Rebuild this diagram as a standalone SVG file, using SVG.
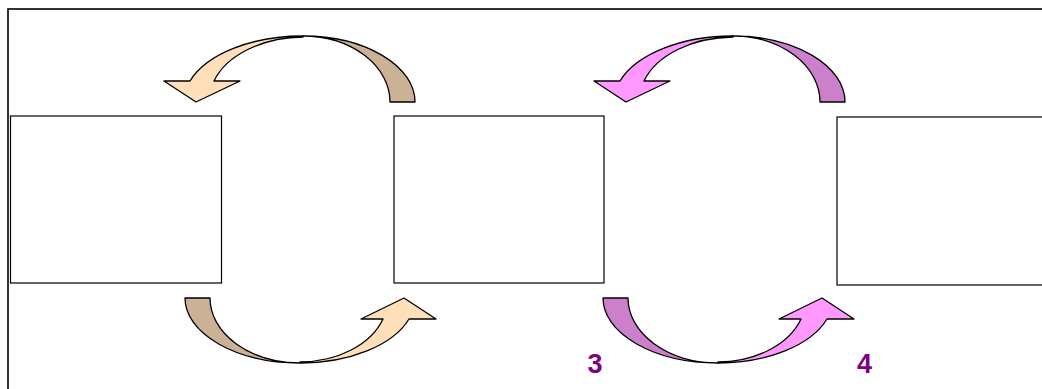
<svg xmlns="http://www.w3.org/2000/svg" width="1042" height="389" viewBox="0 0 1042 389">
<style>
.frame{fill:#fff;stroke:#000;stroke-width:1.6}
.box{fill:#fff;stroke:#000;stroke-width:1.2}
.arw{stroke:#000;stroke-width:1.3;stroke-linejoin:round}
.peach{fill:#FFDEBA}
.tan{fill:#CCB294}
.pink{fill:#FF99FF}
.mauve{fill:#CC80CC}
.lbl{font-family:"Liberation Sans",Arial,sans-serif;font-weight:bold;font-size:27px;fill:#800080;text-anchor:middle}
</style>
<rect width="1042" height="389" fill="#fff"/>
<rect class="frame" x="8" y="9" width="1100" height="500"/>
<g id="node1"><rect class="box" x="10.5" y="116" width="211" height="167"/></g>
<g id="node2"><rect class="box" x="394" y="116" width="210" height="167"/></g>
<g id="node3"><rect class="box" x="837" y="117" width="220" height="168"/></g>
<g id="connectors">
  <g id="arrow-top-1">
    <path class="arw tan" d="M303,36 A112,66 0 0,1 415,102 L390,102 A87,66 0 0,0 303,36 Z"/>
    <path class="arw peach" d="M303,36 A119,66 0 0,0 190,81 L164,81 L196,102 L240,81 L214,81 A95,63 0 0,1 303,37 Z"/>
  </g>
  <g id="arrow-bottom-1">
    <path class="arw tan" d="M185,298 L210,298 A90,65 0 0,0 300,363 A115,65 0 0,1 185,298 Z"/>
    <path class="arw peach" d="M300,363 A115,65 0 0,0 409,319 L436,319 L404,298 L361,319 L383,319 A88,63 0 0,1 300,362 Z"/>
  </g>
  <g id="arrow-top-2">
    <path class="arw mauve" d="M733,36 A112,66 0 0,1 845,102 L820,102 A87,66 0 0,0 733,36 Z"/>
    <path class="arw pink" d="M733,36 A119,66 0 0,0 620,81 L594,81 L626,102 L670,81 L644,81 A95,63 0 0,1 733,37 Z"/>
  </g>
  <g id="arrow-bottom-2">
    <path class="arw mauve" d="M603,298 L628,298 A90,65 0 0,0 718,363 A115,65 0 0,1 603,298 Z"/>
    <path class="arw pink" d="M718,363 A115,65 0 0,0 827,319 L854,319 L822,298 L779,319 L801,319 A88,63 0 0,1 718,362 Z"/>
  </g>
</g>
<text class="lbl" x="595" y="373">3</text>
<text class="lbl" x="864.5" y="373">4</text>
</svg>
